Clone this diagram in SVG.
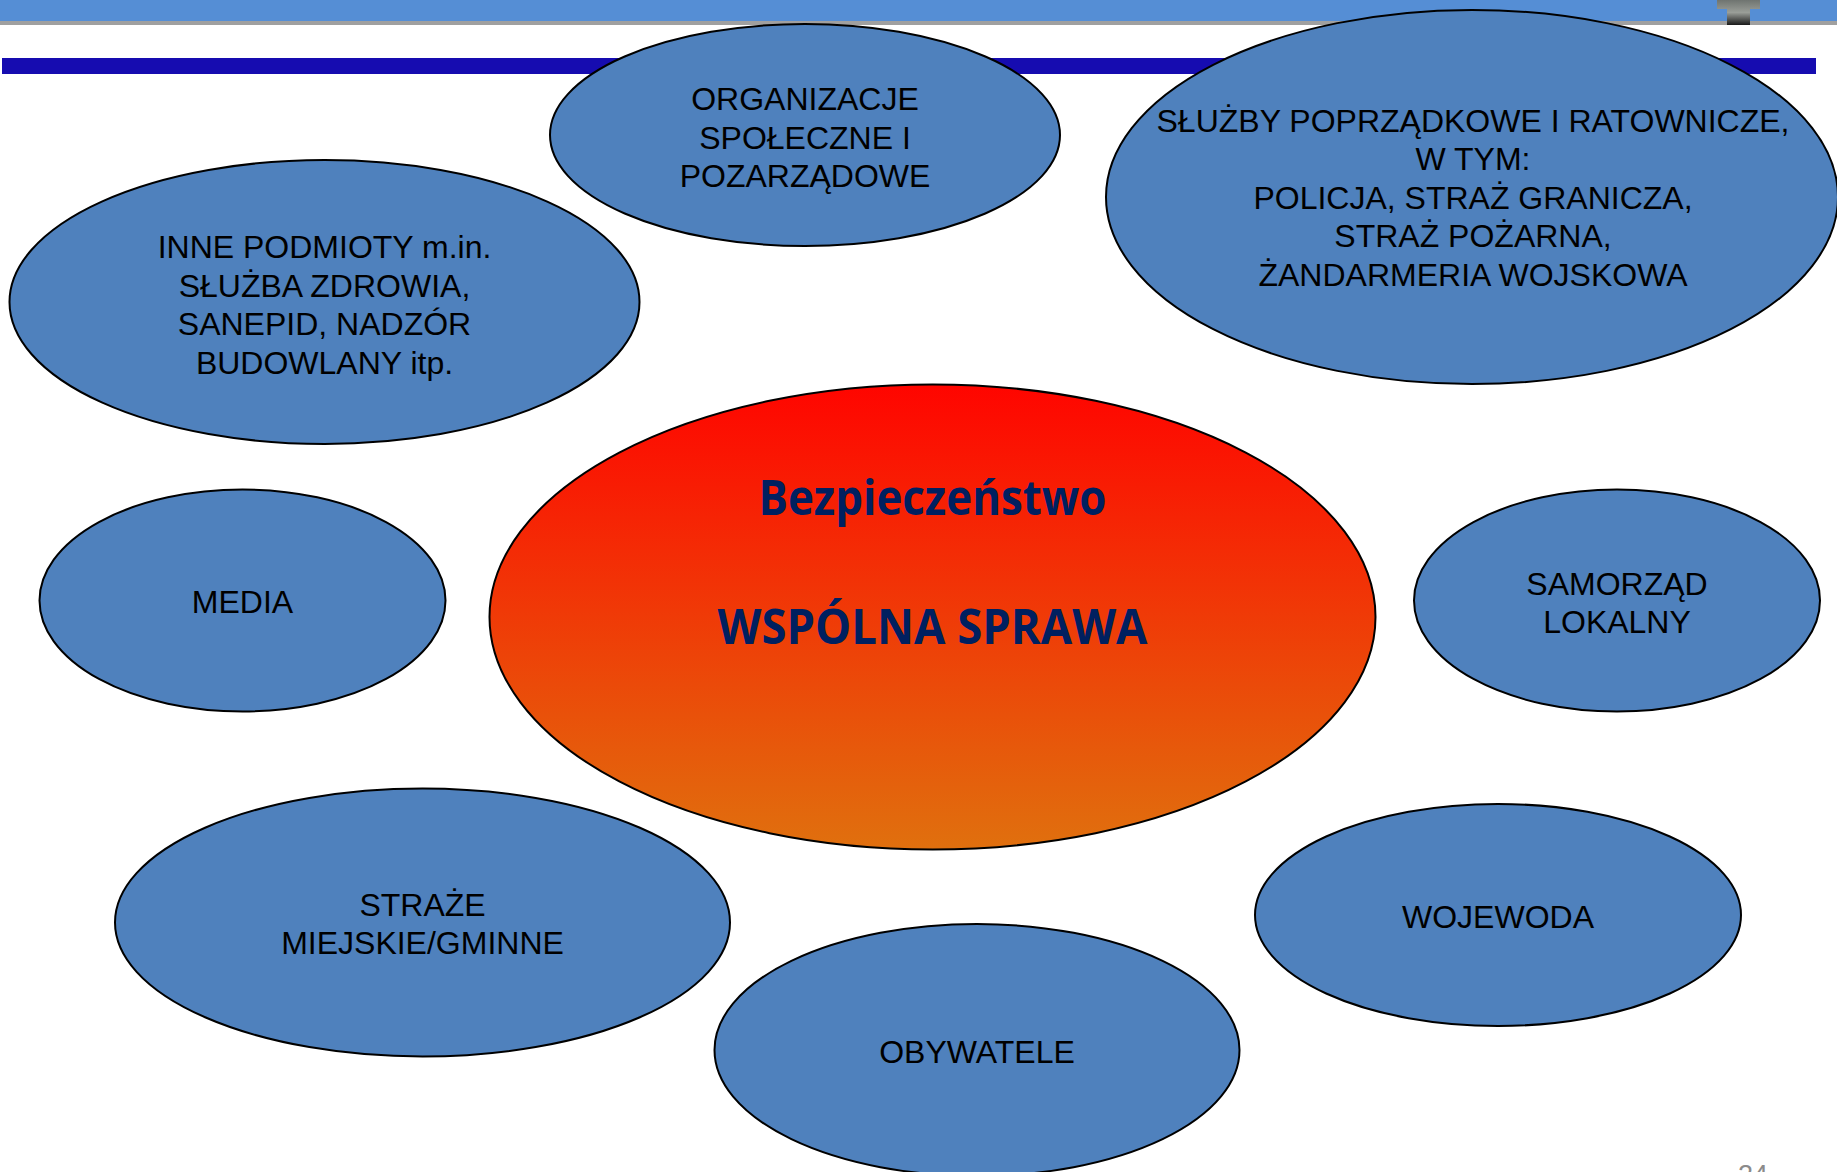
<svg xmlns="http://www.w3.org/2000/svg" width="1837" height="1172" viewBox="0 0 1837 1172">
<defs>
<linearGradient id="redGrad" x1="0" y1="0" x2="0" y2="1">
<stop offset="0" stop-color="#FF0500"/>
<stop offset="1" stop-color="#E0700E"/>
</linearGradient>
<linearGradient id="iconGrad" x1="0" y1="0" x2="0" y2="1">
<stop offset="0" stop-color="#6f7470"/>
<stop offset="0.5" stop-color="#9a9e98"/>
<stop offset="1" stop-color="#1a1a1a"/>
</linearGradient>
<style>
.node{fill:#4F81BD;stroke:#000;stroke-width:2}
.lbl{font-family:"Liberation Sans",Arial,sans-serif;font-size:32px;fill:#000;text-anchor:middle}
.big{font-family:"Open Sans","Noto Sans",sans-serif;font-weight:700;fill:#002060;text-anchor:middle}
</style>
</defs>
<rect x="0" y="0" width="1837" height="1172" fill="#fff"/>
<g id="header">
<rect x="0" y="0" width="1837" height="21" fill="#558ED5"/>
<rect x="0" y="21" width="1837" height="4" fill="#a0a0a0"/>
<rect x="2" y="58" width="1814" height="16" fill="#160CB0"/>
<path d="M1717,0 H1760 V9 H1750 V25 H1727 V9 H1717 Z" fill="url(#iconGrad)"/>
</g>
<g id="connectors"></g>
<g id="organizacje">
<ellipse class="node" cx="805" cy="135" rx="255" ry="111"/>
<text class="lbl" x="805" y="110">ORGANIZACJE</text>
<text class="lbl" x="805" y="148.5">SPOŁECZNE I</text>
<text class="lbl" x="805" y="187">POZARZĄDOWE</text>
</g>
<g id="sluzby">
<ellipse class="node" cx="1472" cy="197" rx="366" ry="187"/>
<text class="lbl" x="1473" y="132">SŁUŻBY POPRZĄDKOWE I RATOWNICZE,</text>
<text class="lbl" x="1473" y="170.4">W TYM:</text>
<text class="lbl" x="1473" y="208.8">POLICJA, STRAŻ GRANICZA,</text>
<text class="lbl" x="1473" y="247.2">STRAŻ POŻARNA,</text>
<text class="lbl" x="1473" y="285.6">ŻANDARMERIA WOJSKOWA</text>
</g>
<g id="inne">
<ellipse class="node" cx="324.5" cy="302" rx="315" ry="142"/>
<text class="lbl" x="324.5" y="258">INNE PODMIOTY m.in.</text>
<text class="lbl" x="324.5" y="296.5">SŁUŻBA ZDROWIA,</text>
<text class="lbl" x="324.5" y="335">SANEPID, NADZÓR</text>
<text class="lbl" x="324.5" y="373.5">BUDOWLANY itp.</text>
</g>
<g id="media">
<ellipse class="node" cx="242.5" cy="600.5" rx="203" ry="111"/>
<text class="lbl" x="242.5" y="613">MEDIA</text>
</g>
<g id="center">
<ellipse cx="932.5" cy="617" rx="443" ry="232.5" fill="url(#redGrad)" stroke="#000" stroke-width="2"/>
<text class="big" x="932.5" y="515" font-size="49" textLength="348" lengthAdjust="spacingAndGlyphs">Bezpieczeństwo</text>
<text class="big" x="932.5" y="644" font-size="49" textLength="430" lengthAdjust="spacingAndGlyphs">WSPÓLNA SPRAWA</text>
</g>
<g id="samorzad">
<ellipse class="node" cx="1617" cy="600.5" rx="203" ry="111"/>
<text class="lbl" x="1617" y="594.5">SAMORZĄD</text>
<text class="lbl" x="1617" y="633">LOKALNY</text>
</g>
<g id="straze">
<ellipse class="node" cx="422.5" cy="922.5" rx="307.5" ry="134"/>
<text class="lbl" x="422.5" y="915.5">STRAŻE</text>
<text class="lbl" x="422.5" y="954">MIEJSKIE/GMINNE</text>
</g>
<g id="wojewoda">
<ellipse class="node" cx="1498" cy="915" rx="243" ry="111"/>
<text class="lbl" x="1498" y="928">WOJEWODA</text>
</g>
<g id="obywatele">
<ellipse class="node" cx="977" cy="1050" rx="262.5" ry="126"/>
<text class="lbl" x="977" y="1063">OBYWATELE</text>
</g>
<text x="1738" y="1184" font-family="Liberation Sans,Arial,sans-serif" font-size="27" fill="#8b8b8b">24</text>
</svg>
